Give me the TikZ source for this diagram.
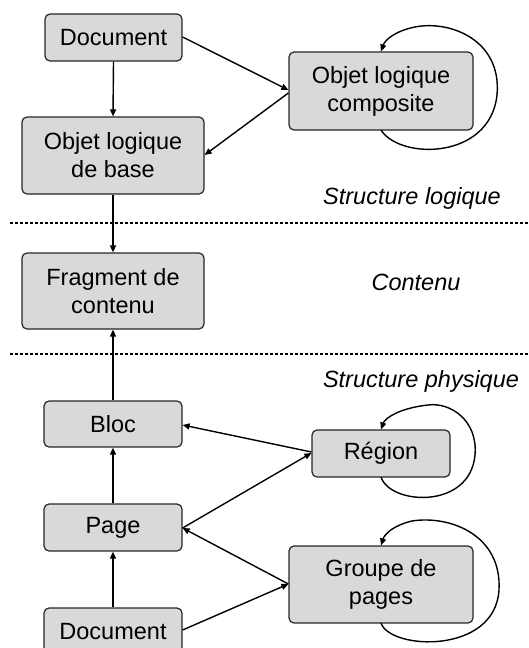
\documentclass[tikz,border=0pt]{standalone}
\usepackage{fontspec}
\setmainfont{Liberation Sans}
\usetikzlibrary{arrows.meta}
\begin{document}
\begin{tikzpicture}[x=1pt,y=-1pt,
  box/.style={draw=black!85, line width=1.2pt, fill=black!15, rounded corners=5pt, align=center, inner sep=0pt, font=\fontsize{23.5}{28}\selectfont},
  arr/.style={line width=1.4pt, -{Triangle[length=7pt,width=6pt]}},
  lbl/.style={font=\fontsize{23.5}{28}\selectfont\itshape},
  sep/.style={line width=2.8pt, dash pattern=on 2.8pt off 2.2pt}]
\useasboundingbox (0,0) rectangle (528,648);
\clip (0,0) rectangle (528,648);
\node[box, minimum width=137pt, minimum height=47pt] (doc1) at (113.5,37.5) {Document};
\node[box, minimum width=184pt, minimum height=78pt] (comp) at (381,91) {Objet logique\\composite};
\node[box, minimum width=182pt, minimum height=77pt] (base) at (113,155.5) {Objet logique\\de base};
\node[box, minimum width=182pt, minimum height=76pt] (frag) at (113,291) {Fragment de\\contenu};
\node[box, minimum width=138pt, minimum height=46pt] (bloc) at (113,424) {Bloc};
\node[box, minimum width=138pt, minimum height=47pt] (region) at (381,453.5) {Région};
\node[box, minimum width=138pt, minimum height=47pt] (page) at (113,527.5) {Page};
\node[box, minimum width=184pt, minimum height=77pt] (groupe) at (381,584.5) {Groupe de\\pages};
\node[box, minimum width=138pt, minimum height=47pt] (doc2) at (113,631.5) {Document};

\node[lbl] (tl) at (412,198) {Structure logique};
\node[lbl] (tc) at (416,282) {Contenu};
\node[lbl] (tp) at (421,381) {Structure physique};

\coordinate (s1a) at (10,223);
\coordinate (s1b) at (528,223);
\coordinate (s2a) at (10,354);
\coordinate (s2b) at (528,354);
\draw[sep] (s1a) -- (s1b);
\draw[sep] (s2a) -- (s2b);

% logical structure
\draw[arr] (doc1.south) -- (base.north);
\draw[arr] (doc1.east |- 0,37) -- (comp.west |- 0,90);
\draw[arr] (comp.west |- 0,93) -- (base.east |- 0,155);
\draw[arr] (381,130) .. controls (400,160) and (490,160) .. (497,95)
  .. controls (502,40) and (450,20) .. (415,27)
  .. controls (395,31) and (385,40) .. (comp.north);
% to content
\draw[arr] (base.south) -- (frag.north);
\draw[arr] (bloc.north) -- (frag.south);
% physical structure
\draw[arr] (page.north) -- (bloc.south);
\draw[arr] (doc2.north) -- (page.south);
\draw[arr] (region.west |- 0,452) -- (bloc.east |- 0,425);
\draw[arr] (page.east |- 0,528) -- (region.west |- 0,453);
\draw[arr] (groupe.west |- 0,584) -- (page.east |- 0,528);
\draw[arr] (doc2.east |- 0,630) -- (groupe.west |- 0,584);
\draw[arr] (381,477) .. controls (390,505) and (470,510) .. (475,455)
  .. controls (478,420) and (450,402) .. (428,405)
  .. controls (400,408) and (385,418) .. (region.north);
\draw[arr] (381,623) .. controls (390,650) and (495,655) .. (499,590)
  .. controls (502,535) and (450,515) .. (412,521)
  .. controls (395,525) and (385,533) .. (groupe.north);
\end{tikzpicture}
\end{document}
